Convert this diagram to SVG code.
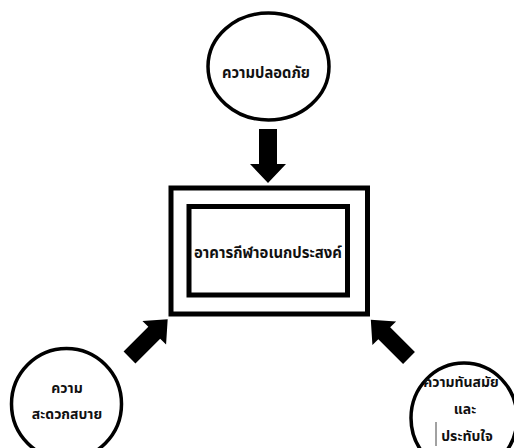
<svg xmlns="http://www.w3.org/2000/svg" xmlns:xlink="http://www.w3.org/1999/xlink" width="514" height="448" viewBox="0 0 514 448">
<style>
.c{fill:#fff;stroke:#000;stroke-width:3.5}
.r{fill:#fff;stroke:#000;stroke-width:5}
.t{font-family:"Noto Sans Thai","Tahoma","DejaVu Sans","Noto Sans",sans-serif;font-size:14px;font-weight:bold;fill:#111;text-anchor:middle}
.L{font-size:15px}
.a{fill:#000}
</style>
<defs>
<polygon id="arr" points="0,-9 35,-9 35,-18 54,0 35,18 35,9 0,9"/>
</defs>
<rect width="514" height="448" fill="#fff"/>
<g id="connectors" class="a">
<use xlink:href="#arr" transform="translate(268,129) rotate(90)"/>
<use xlink:href="#arr" transform="translate(129.5,357.5) rotate(-45) scale(1,0.93)"/>
<use xlink:href="#arr" transform="translate(409,358) rotate(-135) scale(1,0.93)"/>
</g>
<g id="n-safety">
<ellipse class="c" cx="268.5" cy="66.5" rx="60.5" ry="53.5"/>
<text class="t L" x="266" y="78" textLength="88" lengthAdjust="spacingAndGlyphs">ความปลอดภัย</text>
</g>
<g id="n-center">
<rect class="r" x="171" y="188" width="196.5" height="126"/>
<rect class="r" x="189" y="206.5" width="158.5" height="88.5"/>
<text class="t L" x="268" y="258" textLength="148" lengthAdjust="spacingAndGlyphs">อาคารกีฬาอเนกประสงค์</text>
</g>
<g id="n-comfort">
<ellipse class="c" cx="66.5" cy="404" rx="55" ry="55.5"/>
<text class="t" x="67" y="393">ความ</text>
<text class="t" x="67" y="419">สะดวกสบาย</text>
</g>
<g id="n-modern">
<ellipse class="c" cx="464" cy="418" rx="53" ry="55"/>
<text class="t" x="461" y="387">ความทันสมัย</text>
<text class="t" x="465" y="414">และ</text>
<text class="t" x="467" y="441">ประทับใจ</text>
<line x1="436" y1="422" x2="436" y2="446" stroke="#444" stroke-width="1"/>
</g>
</svg>
